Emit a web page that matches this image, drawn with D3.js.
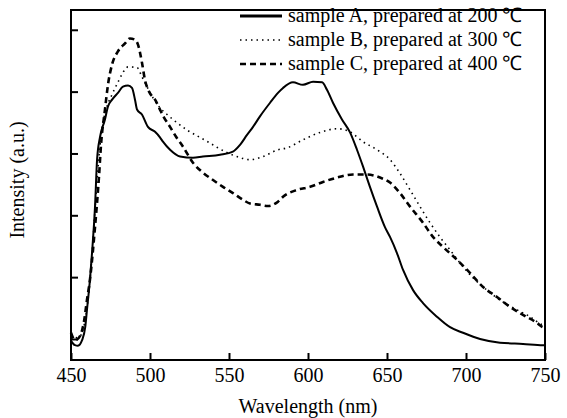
<!DOCTYPE html>
<html>
<head>
<meta charset="utf-8">
<script src="https://cdn.jsdelivr.net/npm/d3@7"></script>
<style>
  body { margin: 0; background: #fff; }
  svg { display: block; font-family: "Liberation Serif", "Times New Roman", serif; }
</style>
</head>
<body>
<svg id="chart" width="567" height="418"></svg>
<script>
// [wavelength nm, intensity a.u.]
const sampleA = [
  [450, -0.03], [452.5, -0.10], [454.4, -0.11], [457, -0.02], [459, 0.19], [460.1, 0.47],
  [462, 0.96], [463.3, 1.39], [465.2, 2.14], [466.5, 2.90], [468.4, 3.27], [471.5, 3.55],
  [473.4, 3.76], [476, 3.87], [479.7, 3.98], [482.9, 4.08], [486.1, 4.10], [488.6, 4.06],
  [490.5, 3.87], [491.8, 3.71], [494.9, 3.63], [498.7, 3.43], [503.2, 3.35], [506.3, 3.26],
  [508.2, 3.19], [512.7, 3.06], [519, 2.95], [527.2, 2.93], [533.5, 2.95], [544.3, 2.98],
  [552.5, 3.03], [557, 3.14], [561.4, 3.30], [565.2, 3.43], [569.6, 3.60], [576, 3.82],
  [581, 3.98], [584.2, 4.06], [590.5, 4.15], [596.8, 4.11], [603.2, 4.16], [608.9, 4.15],
  [612, 4.03], [615.8, 3.82], [621.5, 3.55], [626.6, 3.34], [631, 3.06], [634.8, 2.79],
  [639.2, 2.46], [643.7, 2.14], [648.7, 1.81], [651.9, 1.65], [656.3, 1.39], [660.1, 1.12],
  [666.5, 0.79], [672.8, 0.58], [681.6, 0.36], [689.9, 0.19], [698.1, 0.10], [708.9, 0.00],
  [721.5, -0.06], [736.1, -0.08], [748.7, -0.10], [750, -0.10]
];

const sampleB = [
  [450, 0.06], [452.5, 0.02], [455, 0.03], [457.6, 0.15], [459.5, 0.39], [461.4, 0.79],
  [463.3, 1.36], [465.2, 2.09], [467, 2.74], [468.4, 3.14], [470.3, 3.50], [472.8, 3.76],
  [475.9, 3.95], [479.7, 4.15], [482.9, 4.31], [486.1, 4.40], [491.8, 4.39], [494.9, 4.24],
  [497.5, 4.11], [501.9, 3.90], [506.3, 3.74], [510.8, 3.63], [514.5, 3.55], [523.4, 3.38],
  [531.6, 3.26], [537.9, 3.17], [543, 3.09], [555, 2.95], [563.3, 2.90], [571.5, 2.95],
  [581, 3.06], [586.7, 3.09], [596.8, 3.22], [607.6, 3.34], [618.4, 3.40], [626.6, 3.35],
  [634.8, 3.19], [643.7, 3.06], [651.9, 2.90], [658.2, 2.68], [664.6, 2.41], [670.9, 2.14],
  [677.2, 1.88], [683.5, 1.65], [689.9, 1.44], [696.2, 1.23], [704.4, 0.99], [713.3, 0.79],
  [721.5, 0.63], [732.3, 0.47], [740.5, 0.36], [748.1, 0.23], [750, 0.21]
];

const sampleC = [
  [450, 0.10], [452.5, -0.02], [455, 0.02], [458.2, 0.28], [460.1, 0.63], [462, 0.96],
  [465.2, 1.81], [467.7, 2.62], [469, 3.14], [471.5, 3.71], [473.4, 4.11], [476, 4.44],
  [479.7, 4.65], [484.2, 4.78], [487.3, 4.86], [490.5, 4.84], [492.4, 4.76], [494.9, 4.47],
  [496.8, 4.19], [499.4, 4.00], [503.2, 3.87], [506.3, 3.71], [508.9, 3.58], [512.7, 3.43],
  [516.5, 3.27], [520.9, 3.11], [527.2, 2.85], [533.5, 2.69], [539.9, 2.57], [546.2, 2.46],
  [552.5, 2.36], [558.9, 2.25], [563.3, 2.19], [569.6, 2.17], [574.7, 2.15], [581, 2.22],
  [584.2, 2.30], [593, 2.41], [601.3, 2.46], [609.5, 2.54], [618.4, 2.61], [628.5, 2.66],
  [637.3, 2.66], [645.6, 2.61], [651.9, 2.53], [658.2, 2.36], [664.6, 2.14], [672.8, 1.88],
  [679.1, 1.65], [685.4, 1.49], [694.3, 1.28], [702.5, 1.07], [710.8, 0.84], [719.6, 0.68],
  [727.8, 0.52], [736.1, 0.39], [744.9, 0.26], [748.7, 0.19], [750, 0.18]
];

const legendLabels = [
  "sample A, prepared at 200 \u2103",
  "sample B, prepared at 300 \u2103",
  "sample C, prepared at 400 \u2103"
];
const xTicks = [450, 500, 550, 600, 650, 700, 750];
const yTicks = [0, 1, 2, 3, 4, 5];

const margin = { top: 10, right: 22, bottom: 58, left: 71 };
const width = 567 - margin.left - margin.right;
const height = 418 - margin.top - margin.bottom;

const svg = d3.select("#chart");
const g = svg.append("g")
  .attr("transform", `translate(${margin.left},${margin.top})`);

const x = d3.scaleLinear().domain([450, 750]).range([0, width]);
const y = d3.scaleLinear().domain([-0.34, 5.32]).range([height, 0]);

const styles = [
  { width: 2, dash: null },
  { width: 1.6, dash: "1.5,4" },
  { width: 2.6, dash: "6,4" }
];
const series = [sampleA, sampleB, sampleC];

const line = d3.line()
  .x(d => x(d[0]))
  .y(d => y(d[1]))
  .curve(d3.curveMonotoneX);

series.forEach((s, i) => {
  g.append("path")
    .datum(s)
    .attr("fill", "none")
    .attr("stroke", "#000")
    .attr("stroke-width", styles[i].width)
    .attr("stroke-dasharray", styles[i].dash)
    .attr("stroke-linejoin", "round")
    .attr("d", line);
});

// frame
g.append("rect")
  .attr("width", width)
  .attr("height", height)
  .attr("fill", "none")
  .attr("stroke", "#000")
  .attr("stroke-width", 2);

// axes, ticks pointing inward
const xAxis = g.append("g")
  .attr("transform", `translate(0,${height})`)
  .call(d3.axisBottom(x).tickValues(xTicks).tickSizeInner(-7).tickSizeOuter(0).tickPadding(8));
xAxis.select(".domain").remove();
xAxis.selectAll("line").attr("stroke-width", 2);
xAxis.selectAll("text")
  .style("font-size", "20px")
  .style("font-family", "'Liberation Serif', serif")
  .attr("fill", "#000");

const yAxis = g.append("g")
  .call(d3.axisLeft(y).tickValues(yTicks).tickSizeInner(-7).tickSizeOuter(0).tickFormat(""));
yAxis.select(".domain").remove();
yAxis.selectAll("line").attr("stroke-width", 2);

g.append("text")
  .attr("x", width / 2)
  .attr("y", height + 53)
  .attr("text-anchor", "middle")
  .style("font-size", "20px")
  .text("Wavelength (nm)");

g.append("text")
  .attr("transform", `translate(${-47},${height / 2 - 5}) rotate(-90)`)
  .attr("text-anchor", "middle")
  .style("font-size", "20px")
  .text("Intensity (a.u.)");

// legend
const legend = g.append("g").attr("transform", "translate(169,6)");
legendLabels.forEach((label, i) => {
  const row = legend.append("g").attr("transform", `translate(0,${i * 24})`);
  row.append("line")
    .attr("x1", 0).attr("x2", 42)
    .attr("y1", 0).attr("y2", 0)
    .attr("stroke", "#000")
    .attr("stroke-width", styles[i].width + (i === 0 ? 1 : 0))
    .attr("stroke-dasharray", styles[i].dash);
  row.append("text")
    .attr("x", 48)
    .attr("y", 6)
    .style("font-size", "20px")
    .text(label);
});
</script>
</body>
</html>
